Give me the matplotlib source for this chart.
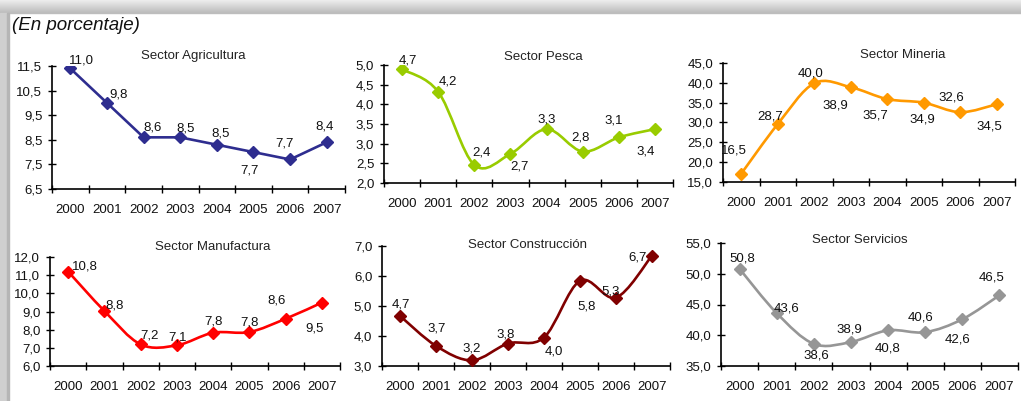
import numpy as np
import matplotlib
matplotlib.use("Agg")
import matplotlib.pyplot as plt
from matplotlib.path import Path
from matplotlib.patches import PathPatch, Rectangle

plt.rcParams["font.family"] = ["Liberation Sans", "DejaVu Sans"]

years = ["2000", "2001", "2002", "2003", "2004", "2005", "2006", "2007"]

agricultura = [11.4, 10.0, 8.6, 8.6, 8.3, 8.0, 7.7, 8.4]
agricultura_labels = ["11,0", "9,8", "8,6", "8,5", "8,5", "7,7", "7,7", "8,4"]

pesca = [4.89, 4.32, 2.46, 2.74, 3.37, 2.80, 3.16, 3.37]
pesca_labels = ["4,7", "4,2", "2,4", "2,7", "3,3", "2,8", "3,1", "3,4"]

mineria = [17.1, 29.6, 39.9, 38.9, 35.9, 35.0, 32.6, 34.6]
mineria_labels = ["16,5", "28,7", "40,0", "38,9", "35,7", "34,9", "32,6", "34,5"]

manufactura = [11.2, 9.03, 7.19, 7.14, 7.83, 7.87, 8.6, 9.49]
manufactura_labels = ["10,8", "8,8", "7,2", "7,1", "7,8", "7,8", "8,6", "9,5"]

construccion = [4.67, 3.67, 3.19, 3.75, 3.95, 5.84, 5.28, 6.68]
construccion_labels = ["4,7", "3,7", "3,2", "3,8", "4,0", "5,8", "5,3", "6,7"]

servicios = [50.8, 43.6, 38.6, 38.9, 40.8, 40.5, 42.6, 46.5]
servicios_labels = ["50,8", "43,6", "38,6", "38,9", "40,8", "40,6", "42,6", "46,5"]

W, H = 1021, 401

# panel layout in pixels: (x0, x1, y_top, y_bottom)
panels = [
    dict(title="Sector Agricultura", values=agricultura, labels=agricultura_labels,
         color="#2e2d8f", box=(52, 345, 66, 189), ylim=(6.5, 11.5), step=1.0,
         smooth=False, title_px=(193, 56),
         offsets=[(11, -8), (12, -8), (9, -10), (5, -9), (4, -11), (-4, 18), (-6, -16), (-2, -16)]),
    dict(title="Sector Pesca", values=pesca, labels=pesca_labels,
         color="#99cc00", box=(384, 673, 65, 183), ylim=(2.0, 5.0), step=0.5,
         smooth=True, title_px=(543, 57),
         offsets=[(6, -9), (10, -10), (7, -12), (9, 13), (0, -10), (-2, -14), (-5, -17), (-9, 22)]),
    dict(title="Sector Mineria", values=mineria, labels=mineria_labels,
         color="#ff9900", box=(723, 1015, 63, 182), ylim=(15.0, 45.0), step=5.0,
         smooth=True, title_px=(903, 55),
         offsets=[(-7, -23), (-8, -8), (-4, -10), (-15, 18), (-12, 16), (-1, 17), (-9, -15), (-7, 22)]),
    dict(title="Sector Manufactura", values=manufactura, labels=manufactura_labels,
         color="#ff0000", box=(50, 340, 257, 366), ylim=(6.0, 12.0), step=1.0,
         smooth=True, title_px=(213, 247),
         offsets=[(17, -5), (10, -5), (9, -9), (1, -8), (0, -11), (0, -10), (-9, -18), (-7, 26)]),
    dict(title="Sector Construcción", values=construccion, labels=construccion_labels,
         color="#800000", box=(382, 670, 246, 366), ylim=(3.0, 7.0), step=1.0,
         smooth=True, title_px=(527, 245),
         offsets=[(1, -11), (1, -17), (0, -12), (-2, -9), (10, 14), (7, 26), (-5, -6), (-14, 2)]),
    dict(title="Sector Servicios", values=servicios, labels=servicios_labels,
         color="#969696", box=(721, 1018, 243, 366), ylim=(35.0, 55.0), step=5.0,
         smooth=True, title_px=(860, 240),
         offsets=[(3, -10), (10, -5), (3, 12), (-2, -13), (-1, 18), (-5, -15), (-5, 20), (-8, -18)]),
]


def smooth_path(xs, ys):
    pts = np.column_stack([xs, ys])
    verts = [pts[0]]
    codes = [Path.MOVETO]
    n = len(pts)
    for i in range(n - 1):
        p0 = pts[max(i - 1, 0)]
        p1 = pts[i]
        p2 = pts[i + 1]
        p3 = pts[min(i + 2, n - 1)]
        c1 = p1 + (p2 - p0) / 6.0
        c2 = p2 - (p3 - p1) / 6.0
        verts += [c1, c2, p2]
        codes += [Path.CURVE4] * 3
    return Path(verts, codes)


fig = plt.figure(figsize=(W / 100, H / 100), dpi=100)
fig.patch.set_facecolor("white")

# grey frame of the clipped screenshot
for k, g in enumerate(np.linspace(0.93, 0.74, 13)):
    fig.patches.append(Rectangle((0, 1 - (k + 1) / H), 1, 1 / H,
                                 transform=fig.transFigure, color=str(g), zorder=0))
fig.patches.append(Rectangle((0, 0), 7 / W, 1 - 13 / H, transform=fig.transFigure,
                             color="#cfcfcf", zorder=0))
fig.patches.append(Rectangle((7 / W, 0), 2 / W, 1 - 13 / H, transform=fig.transFigure,
                             color="#b5b5b5", zorder=0))

fig.text(12 / W, 1 - 25 / H, "(En porcentaje)", fontsize=13.5, fontstyle="italic",
         va="center", ha="left", color="#111111")

x = np.arange(len(years))

for p in panels:
    x0, x1, yt, yb = p["box"]
    ax = fig.add_axes([x0 / W, 1 - yb / H, (x1 - x0) / W, (yb - yt) / H])
    ax.set_facecolor("none")
    vals = np.array(p["values"])
    if p["smooth"]:
        ax.add_patch(PathPatch(smooth_path(x, vals), facecolor="none",
                               edgecolor=p["color"], lw=1.9, zorder=2))
    else:
        ax.plot(x, vals, color=p["color"], lw=1.9, zorder=2)
    ax.plot(x, vals, linestyle="none", marker="D", markersize=6,
            color=p["color"], zorder=3)
    for xi, yi, lab, off in zip(x, vals, p["labels"], p["offsets"]):
        ax.annotate(lab, (xi, yi), xytext=(off[0], -off[1]), textcoords="offset pixels",
                    ha="center", va="center", fontsize=9.5, color="#111111")

    lo, hi = p["ylim"]
    ax.set_xlim(-0.5, len(years) - 0.5)
    ax.set_ylim(lo, hi)
    ax.set_yticks(np.arange(lo, hi + p["step"] / 2, p["step"]))
    ax.set_yticklabels([f"{v:.1f}".replace(".", ",") for v in ax.get_yticks()])
    ax.set_xticks(np.arange(-0.5, len(years), 1.0))
    ax.set_xticklabels([])
    ax.set_xticks(x, minor=True)
    ax.set_xticklabels(years, minor=True)
    ax.tick_params(axis="x", which="major", direction="inout", length=6, width=1)
    ax.tick_params(axis="x", which="minor", length=0, pad=11, labelsize=9.5,
                   labelcolor="#111111")
    ax.tick_params(axis="y", direction="inout", length=6, width=1, pad=4,
                   labelsize=9.5, labelcolor="#111111")
    for s in ["top", "right"]:
        ax.spines[s].set_visible(False)
    for s in ["left", "bottom"]:
        ax.spines[s].set_linewidth(1.2)

    tx, ty = p["title_px"]
    ax.text((tx - x0) / (x1 - x0), (yb - ty) / (yb - yt), p["title"],
            transform=ax.transAxes, ha="center", va="center", fontsize=9.5,
            color="#222222")

fig.savefig("out.png", dpi=100)
